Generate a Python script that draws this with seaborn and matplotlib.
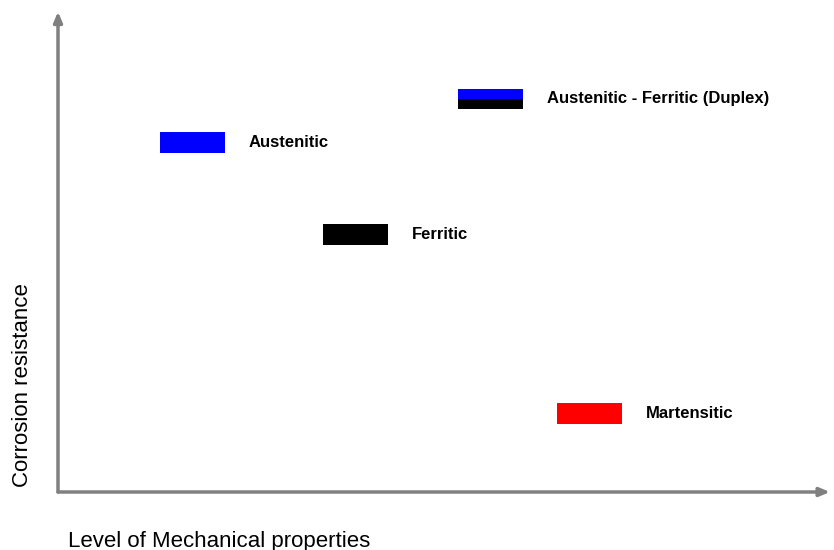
import matplotlib.pyplot as plt
import numpy as np
import seaborn as sns

# Steel families, positions (arbitrary 0-10 units)
families = ["Austenitic", "Ferritic", "Austenitic - Ferritic (Duplex)", "Martensitic"]
mech_level = [1.74, 3.85, 5.60, 6.88]
corrosion = [7.31, 5.39, 8.23, 1.64]
bar_colors = [["#0000ff"], ["#000000"], ["#0000ff", "#000000"], ["#ff0000"]]

box_w = 0.84
box_h = 0.44

sns.set_style("white")
plt.rcParams["font.family"] = ["Liberation Sans", "DejaVu Sans"]

fig = plt.figure(figsize=(8.34, 5.5), dpi=100)
ax = fig.add_axes([0, 0, 1, 1])
ax.set_xlim(-58 / 77.2, (834 - 58) / 77.2)
ax.set_ylim(-58 / 47.8, 492 / 47.8)
ax.axis("off")

# axes with arrows
axis_col = "#808080"
ax.annotate("", xy=(10.0, 0), xytext=(0, 0),
            arrowprops=dict(arrowstyle="-|>,head_length=0.6,head_width=0.25",
                            color=axis_col, lw=2.5, shrinkA=0, shrinkB=0))
ax.annotate("", xy=(0, 10.05), xytext=(0, 0),
            arrowprops=dict(arrowstyle="-|>,head_length=0.6,head_width=0.25",
                            color=axis_col, lw=2.5, shrinkA=0, shrinkB=0))

# boxes and labels
for name, x, y, cols in zip(families, mech_level, corrosion, bar_colors):
    n = len(cols)
    h = box_h / n
    for i, c in enumerate(cols):
        bottom = y + box_h / 2 - (i + 1) * h
        ax.bar(x, h * (0.92 if n > 1 else 1), width=box_w, bottom=bottom,
               color=c, edgecolor="none")
    ax.text(x + box_w / 2 + 0.31, y, name, fontsize=12, fontweight="bold",
            va="center", ha="left", color="black")

ax.text(10 / 77.2, -49 / 47.8, "Level of Mechanical properties",
        fontsize=16, va="center", ha="left", color="black")
ax.text(-35 / 77.2, 107 / 47.8, "Corrosion resistance",
        fontsize=16, va="center", ha="center", rotation=90, color="black")

fig.savefig("out.png", dpi=100)
